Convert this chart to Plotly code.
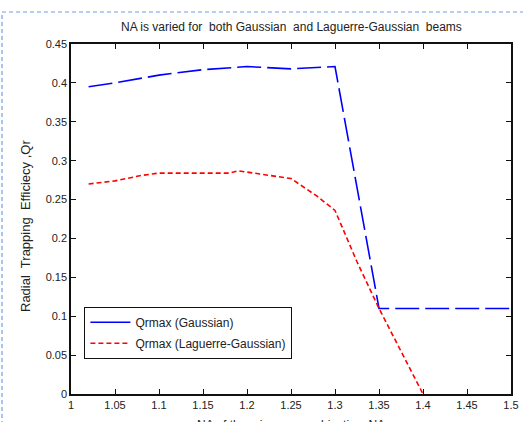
import plotly.graph_objects as go

# Data
na_gauss = [1.02, 1.05, 1.10, 1.15, 1.20, 1.25, 1.30, 1.35, 1.40, 1.45, 1.50]
qr_gauss = [0.395, 0.400, 0.410, 0.417, 0.421, 0.418, 0.421, 0.110, 0.110, 0.110, 0.110]

na_lg = [1.02, 1.05, 1.08, 1.10, 1.15, 1.18, 1.19, 1.25, 1.28, 1.30, 1.325, 1.35, 1.37, 1.40]
qr_lg = [0.270, 0.274, 0.281, 0.284, 0.284, 0.284, 0.287, 0.277, 0.254, 0.236, 0.170, 0.110, 0.066, 0.000]

x_ticks = [1, 1.05, 1.1, 1.15, 1.2, 1.25, 1.3, 1.35, 1.4, 1.45, 1.5]
y_ticks = [0, 0.05, 0.1, 0.15, 0.2, 0.25, 0.3, 0.35, 0.4, 0.45]

title_text = "NA is varied for  both Gaussian  and Laguerre-Gaussian  beams"
x_label = "NA of the microscope objective, NA"
y_label = "Radial  Trapping  Efficiecy ,Qr"
legend_names = ["Qrmax (Gaussian)", "Qrmax (Laguerre-Gaussian)"]

FONT = "Liberation Sans, Arial, sans-serif"
TXT = "#222222"

fig = go.Figure()
fig.add_trace(go.Scatter(
    x=na_gauss, y=qr_gauss, mode="lines", name=legend_names[0], showlegend=False,
    legendgroup="g", line=dict(color="#0000ff", width=1.6, dash="24px,6px")))
# legend entry (solid sample, as in the reference legend)
fig.add_trace(go.Scatter(
    x=[None], y=[None], mode="lines", name=legend_names[0], legendgroup="g",
    line=dict(color="#0000ff", width=1.6)))
fig.add_trace(go.Scatter(
    x=na_lg, y=qr_lg, mode="lines", name=legend_names[1],
    line=dict(color="#ff0000", width=1.6, dash="5px,3px")))

axis_common = dict(
    showgrid=False, zeroline=False, showline=True, linecolor="#111111", linewidth=1.5,
    mirror="ticks", ticks="inside", ticklen=5, tickcolor="#111111", tickwidth=1.2,
    tickfont=dict(family=FONT, size=11, color=TXT), automargin=False,
)

fig.update_layout(
    width=523, height=422,
    margin=dict(l=71, r=12, t=44, b=28, autoexpand=False),
    paper_bgcolor="white", plot_bgcolor="white",
    showlegend=True,
    legend=dict(
        x=0.03, y=0.25, xanchor="left", yanchor="top",
        bordercolor="#111111", borderwidth=1.2, bgcolor="white",
        font=dict(family=FONT, size=12, color=TXT),
        itemwidth=40, tracegroupgap=2,
    ),
    xaxis=dict(range=[1, 1.5], tickvals=x_ticks,
               ticktext=[f"{v:g}" for v in x_ticks], **axis_common),
    yaxis=dict(range=[0, 0.45], tickvals=y_ticks,
               ticktext=[f"{v:g}" for v in y_ticks], **axis_common),
    annotations=[
        dict(text=title_text, xref="paper", yref="paper", x=0.5, y=1,
             xanchor="center", yanchor="bottom", yshift=8, showarrow=False,
             font=dict(family=FONT, size=12, color=TXT)),
        dict(text=x_label, xref="paper", yref="paper", x=0.5, y=0,
             xanchor="center", yanchor="top", yshift=-22, showarrow=False,
             font=dict(family=FONT, size=12, color=TXT)),
        dict(text=y_label, xref="paper", yref="paper", x=0, y=0.48,
             xanchor="center", yanchor="middle", xshift=-46, textangle=-90,
             showarrow=False, font=dict(family=FONT, size=13, color=TXT)),
    ],
    shapes=[
        dict(type="rect", xref="paper", yref="paper",
             x0=-69 / 440, x1=1.1, y0=-0.2, y1=1 + 32 / 350,
             line=dict(color="#6fa0e6", width=1.2, dash="4px,3px"),
             fillcolor="rgba(0,0,0,0)", layer="below"),
    ],
)

fig.write_html("out.html")
